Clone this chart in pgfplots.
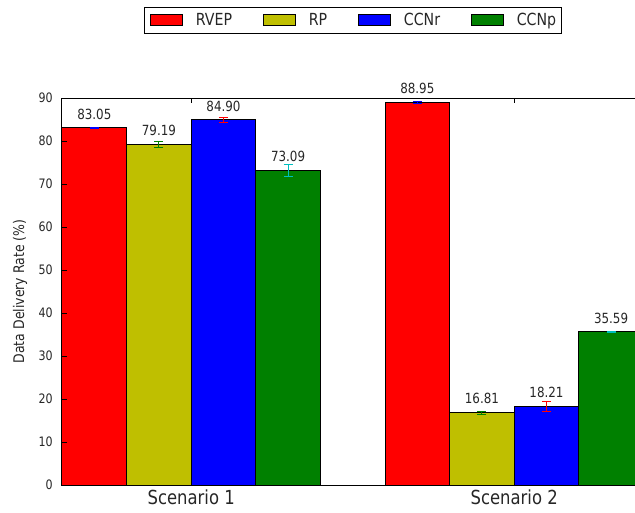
\documentclass[border=0pt]{standalone}
\usepackage{fontspec}
\setmainfont{DejaVu Sans}[FakeStretch=0.85]
\usepackage{pgfplots}
\pgfplotsset{compat=1.18}
\definecolor{mred}{RGB}{255,0,0}
\definecolor{myel}{RGB}{191,191,0}
\definecolor{mblue}{RGB}{0,0,255}
\definecolor{mgreen}{RGB}{0,128,0}
\definecolor{mcyan}{RGB}{0,191,191}
\begin{document}
\begin{tikzpicture}
\begin{axis}[
  scale only axis, width=484.5pt, height=290.25pt,
  xmin=0, xmax=2, ymin=0, ymax=90,
  axis on top,
  ybar, bar width=0.2, bar shift=0pt,
  xtick={0.4,1.4}, xticklabels={Scenario 1, Scenario 2},
  ytick={0,10,...,90},
  tick align=inside, major tick length=3.75pt,
  x tick label style={font=\fontsize{14.5}{17}\selectfont, text=black!85},
  y tick label style={font=\fontsize{9.75}{12}\selectfont, text=black!85, xshift=-3.5pt},
  /pgf/number format/assume math mode=true,
  ylabel={Data Delivery Rate (\%)},
  every axis y label/.style={at={(axis description cs:-0.065,0.5)}, rotate=90, anchor=center, font=\fontsize{11}{13}\selectfont, text=black!85},
  axis line style={line width=0.75pt},
  every tick/.style={black, line width=0.75pt},
  legend columns=4,
  legend style={at={(axis description cs:0.4505,1)}, anchor=south, yshift=48pt, draw=black, line width=0.75pt, inner xsep=4pt, inner ysep=4.5pt, font=\fontsize{12.5}{14}\selectfont, text=black!85, /tikz/every even column/.append style={column sep=23pt}, nodes={inner xsep=0pt, inner ysep=0pt}},
  legend image code/.code={\draw[#1,line width=0.75pt] (0pt,-4.1pt) rectangle (24pt,4.1pt); \path (33.75pt,0pt);},
  nodes near coords={\pgfmathprintnumber[fixed,zerofill,precision=2]{\pgfplotspointmeta}},
  nodes near coords style={font=\fontsize{10.5}{12}\selectfont, text=black!85, anchor=south, yshift=2.7pt},
  error bars/y dir=both, error bars/y explicit,
]
\addplot[fill=mred, draw=black, line width=0.75pt,
  error bars/error bar style={mblue, line width=0.75pt},
  error bars/error mark options={rotate=90, mblue, mark size=3.4pt, line width=0.75pt}]
  coordinates {(0.1,83.05) +- (0,0.2) (1.1,88.95) +- (0,0.3)};
\addplot[fill=myel, draw=black, line width=0.75pt,
  error bars/error bar style={mgreen, line width=0.75pt},
  error bars/error mark options={rotate=90, mgreen, mark size=3.4pt, line width=0.75pt}]
  coordinates {(0.3,79.19) +- (0,0.6) (1.3,16.81) +- (0,0.3)};
\addplot[fill=mblue, draw=black, line width=0.75pt,
  error bars/error bar style={mred, line width=0.75pt},
  error bars/error mark options={rotate=90, mred, mark size=3.4pt, line width=0.75pt}]
  coordinates {(0.5,84.90) +- (0,0.6) (1.5,18.21) +- (0,1.2)};
\addplot[fill=mgreen, draw=black, line width=0.75pt,
  error bars/error bar style={mcyan, line width=0.75pt},
  error bars/error mark options={rotate=90, mcyan, mark size=3.4pt, line width=0.75pt}]
  coordinates {(0.7,73.09) +- (0,1.4) (1.7,35.59) +- (0,0.2)};
\legend{RVEP,RP,CCNr,CCNp}
\coordinate (O) at (rel axis cs:0,0);
\end{axis}
\pgfresetboundingbox
\path[use as bounding box] ([shift={(-46.5pt,-20.25pt)}]O) rectangle ([shift={(429.75pt,363.75pt)}]O);
\end{tikzpicture}
\end{document}
